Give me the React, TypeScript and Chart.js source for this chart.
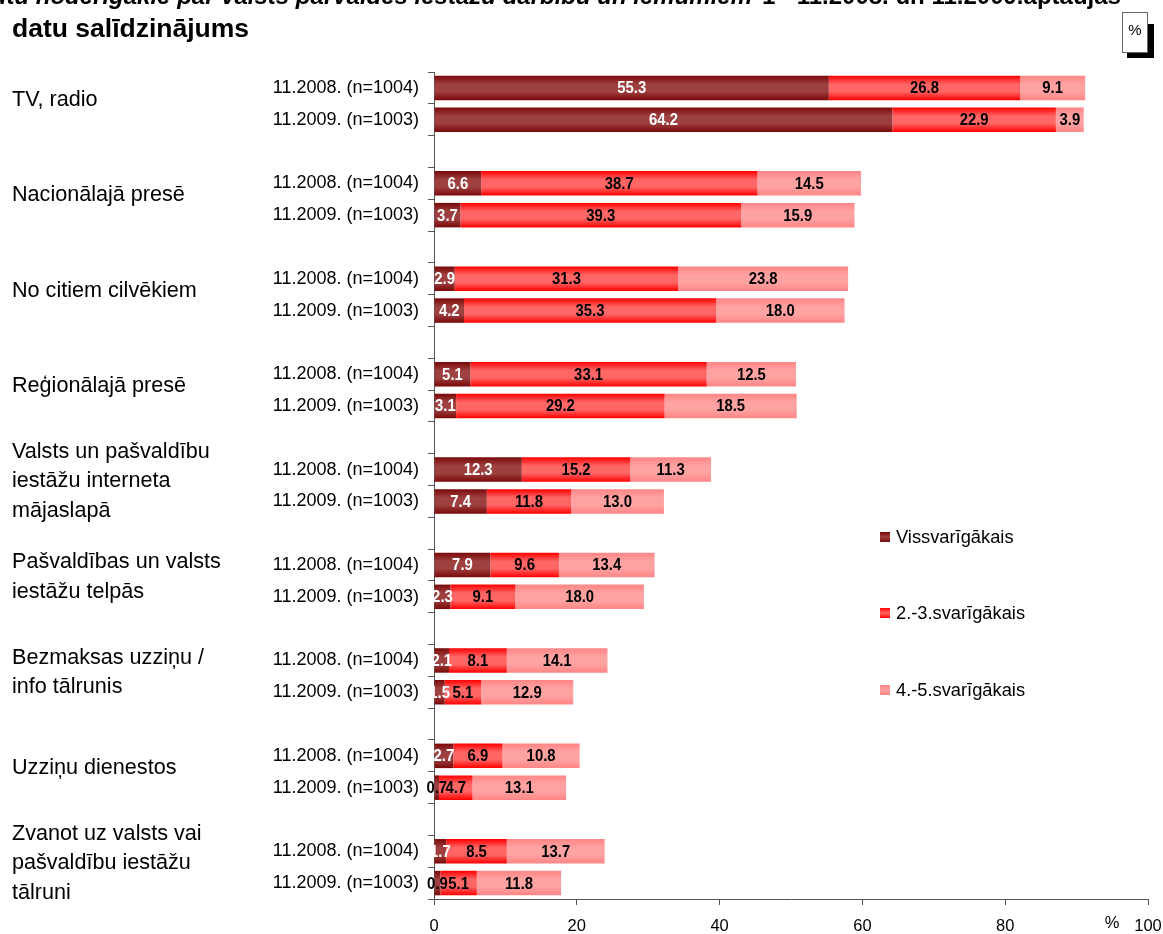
import React, { useEffect, useRef } from 'react';
import { Chart, registerables } from 'chart.js';

Chart.register(...registerables);

const titleLine1Italic = 'Informācijas avoti, kas ir/būtu noderīgākie par valsts pārvaldes iestāžu darbību un lēmumiem';
const titleLine1Plain = '1 - 11.2008. un 11.2009.aptaujas';
const titleLine2 = 'datu salīdzinājums';

const groups: string[][] = [
  ['TV, radio'],
  ['Nacionālajā presē'],
  ['No citiem cilvēkiem'],
  ['Reģionālajā presē'],
  ['Valsts un pašvaldību', 'iestāžu interneta', 'mājaslapā'],
  ['Pašvaldības un valsts', 'iestāžu telpās'],
  ['Bezmaksas uzziņu /', 'info tālrunis'],
  ['Uzziņu dienestos'],
  ['Zvanot uz valsts vai', 'pašvaldību iestāžu', 'tālruni'],
];
const waves = ['11.2008. (n=1004)', '11.2009. (n=1003)'];
const seriesNames = ['Vissvarīgākais', '2.-3.svarīgākais', '4.-5.svarīgākais'];

const mostImportant = [55.3, 64.2, 6.6, 3.7, 2.9, 4.2, 5.1, 3.1, 12.3, 7.4, 7.9, 2.3, 2.1, 1.5, 2.7, 0.7, 1.7, 0.9];
const secondThird = [26.8, 22.9, 38.7, 39.3, 31.3, 35.3, 33.1, 29.2, 15.2, 11.8, 9.6, 9.1, 8.1, 5.1, 6.9, 4.7, 8.5, 5.1];
const fourthFifth = [9.1, 3.9, 14.5, 15.9, 23.8, 18.0, 12.5, 18.5, 11.3, 13.0, 13.4, 18.0, 14.1, 12.9, 10.8, 13.1, 13.7, 11.8];

const xTicks = [0, 20, 40, 60, 80, 100];

const seriesColors: [string, string][] = [
  ['#7a0808', '#9e4040'],
  ['#ff0000', '#ff6666'],
  ['#ff8585', '#ffa2a2'],
];

const FONT = '"Liberation Sans", Arial, sans-serif';
const BAR_PCT = 0.77;

// Build category rows: two waves per group and an empty row between groups
const rowLabels: string[] = [];
const rowSource: number[] = [];
groups.forEach((_, g) => {
  waves.forEach((w, k) => {
    rowLabels.push(w);
    rowSource.push(g * 2 + k);
  });
  if (g < groups.length - 1) {
    rowLabels.push('');
    rowSource.push(-1);
  }
});
const rowData = (arr: number[]) => rowSource.map((i) => (i < 0 ? null : arr[i]));

function gradientFill(stops: [string, string]) {
  return (c: any) => {
    const chart = c.chart;
    const area = chart.chartArea;
    if (!area || c.type !== 'data') return stops[1];
    const ys = chart.scales.y;
    const yc = ys.getPixelForValue(c.dataIndex);
    const slot = (area.bottom - area.top) / rowLabels.length;
    const h = slot * BAR_PCT;
    const g = chart.ctx.createLinearGradient(0, yc - h / 2, 0, yc + h / 2);
    g.addColorStop(0, stops[0]);
    g.addColorStop(0.35, stops[1]);
    g.addColorStop(0.65, stops[1]);
    g.addColorStop(1, stops[0]);
    return g;
  };
}

const decorPlugin = {
  id: 'decor',
  afterDatasetsDraw(chart: any) {
    const ctx = chart.ctx as CanvasRenderingContext2D;
    // data labels
    chart.data.datasets.forEach((ds: any, di: number) => {
      const meta = chart.getDatasetMeta(di);
      meta.data.forEach((el: any, i: number) => {
        const v = ds.data[i];
        if (v === null || v === undefined) return;
        const cx = (el.x + el.base) / 2;
        const cy = el.y;
        ctx.save();
        ctx.translate(cx, cy);
        ctx.scale(0.93, 1);
        ctx.font = `bold 16px ${FONT}`;
        ctx.textAlign = 'center';
        ctx.textBaseline = 'middle';
        ctx.fillStyle = di === 0 && v >= 1 ? '#ffffff' : '#000000';
        ctx.fillText(v.toFixed(1), 0, 1);
        ctx.restore();
      });
    });
  },
  afterDraw(chart: any) {
    const ctx = chart.ctx as CanvasRenderingContext2D;
    const ys = chart.scales.y;
    const xs = chart.scales.x;
    // group labels
    ctx.save();
    ctx.font = `21.6px ${FONT}`;
    ctx.fillStyle = '#000';
    ctx.textAlign = 'left';
    ctx.textBaseline = 'middle';
    const lh = 29.5;
    groups.forEach((lines, g) => {
      const i0 = rowSource.indexOf(g * 2);
      const i1 = rowSource.indexOf(g * 2 + 1);
      const center = (ys.getPixelForValue(i0) + ys.getPixelForValue(i1)) / 2 - 4;
      const top = center - ((lines.length - 1) * lh) / 2;
      lines.forEach((ln, k) => ctx.fillText(ln, 12, top + k * lh));
    });
    ctx.restore();

    // legend
    ctx.save();
    const legY = [537, 613, 690];
    seriesNames.forEach((name, i) => {
      const y = legY[i];
      const g = ctx.createLinearGradient(0, y - 5, 0, y + 5);
      g.addColorStop(0, seriesColors[i][0]);
      g.addColorStop(0.5, seriesColors[i][1]);
      g.addColorStop(1, seriesColors[i][0]);
      ctx.fillStyle = g;
      ctx.fillRect(880, y - 5, 10, 10);
      ctx.fillStyle = '#000';
      ctx.font = `18.3px ${FONT}`;
      ctx.textBaseline = 'middle';
      ctx.textAlign = 'left';
      ctx.fillText(name, 896, y + 1);
    });
    ctx.restore();

    // "%" before 100 on x axis
    ctx.save();
    ctx.font = `16.5px ${FONT}`;
    ctx.fillStyle = '#000';
    ctx.textAlign = 'center';
    ctx.textBaseline = 'middle';
    ctx.fillText('%', xs.getPixelForValue(100) - 36, 923);
    ctx.restore();

    // title
    ctx.save();
    ctx.fillStyle = '#000';
    ctx.textBaseline = 'alphabetic';
    ctx.font = `italic bold 24px ${FONT}`;
    ctx.textAlign = 'right';
    ctx.fillText(titleLine1Italic, 752, 4);
    ctx.font = `bold 24px ${FONT}`;
    ctx.textAlign = 'left';
    ctx.fillText(titleLine1Plain, 762, 4);
    ctx.font = `bold 26.5px ${FONT}`;
    ctx.fillText(titleLine2, 12, 37);
    ctx.restore();

    // % box with shadow
    ctx.save();
    ctx.fillStyle = '#000';
    ctx.fillRect(1127, 24, 27, 34);
    ctx.fillStyle = '#fff';
    ctx.fillRect(1122, 12, 26, 41);
    ctx.strokeStyle = '#666';
    ctx.lineWidth = 1;
    ctx.strokeRect(1122.5, 12.5, 25, 40);
    ctx.fillStyle = '#000';
    ctx.font = `15px ${FONT}`;
    ctx.textAlign = 'center';
    ctx.textBaseline = 'middle';
    ctx.fillText('%', 1135, 31);
    ctx.restore();
  },
};

export default function App() {
  const ref = useRef<HTMLCanvasElement | null>(null);

  useEffect(() => {
    if (!ref.current) return;
    const chart = new Chart(ref.current, {
      type: 'bar',
      data: {
        labels: rowLabels,
        datasets: [
          { label: seriesNames[0], data: rowData(mostImportant), backgroundColor: gradientFill(seriesColors[0]) },
          { label: seriesNames[1], data: rowData(secondThird), backgroundColor: gradientFill(seriesColors[1]) },
          { label: seriesNames[2], data: rowData(fourthFifth), backgroundColor: gradientFill(seriesColors[2]) },
        ] as any,
      },
      options: {
        indexAxis: 'y',
        responsive: false,
        animation: false,
        events: [],
        datasets: { bar: { barPercentage: BAR_PCT, categoryPercentage: 1, borderWidth: 0 } },
        layout: { padding: { top: 72, right: 15, bottom: 0, left: 0 } },
        plugins: { legend: { display: false }, tooltip: { enabled: false }, title: { display: false } },
        scales: {
          x: {
            stacked: true,
            min: 0,
            max: 100,
            afterBuildTicks: (s: any) => {
              s.ticks = xTicks.map((v) => ({ value: v }));
            },
            ticks: { font: { family: FONT, size: 16.5 }, color: '#000', padding: 12, maxRotation: 0 },
            grid: { drawOnChartArea: false, tickLength: 6, color: '#555' },
            border: { color: '#555' },
            afterFit: (s: any) => {
              s.height = 35;
              s.paddingLeft = 0;
              s.paddingRight = 0;
            },
          },
          y: {
            stacked: true,
            ticks: { font: { family: FONT, size: 18 }, color: '#000', padding: 9, autoSkip: false },
            grid: { offset: true, drawOnChartArea: false, tickLength: 6, color: '#555' },
            border: { color: '#555' },
            afterFit: (s: any) => {
              s.width = 434;
              s.paddingTop = 0;
              s.paddingBottom = 0;
            },
          },
        },
      } as any,
      plugins: [decorPlugin],
    });
    return () => chart.destroy();
  }, []);

  return (
    <div style={{ position: 'absolute', left: 0, top: 0, width: 1163, height: 934, background: '#fff' }}>
      <canvas ref={ref} width={1163} height={934} style={{ display: 'block', width: 1163, height: 934 }} />
    </div>
  );
}
